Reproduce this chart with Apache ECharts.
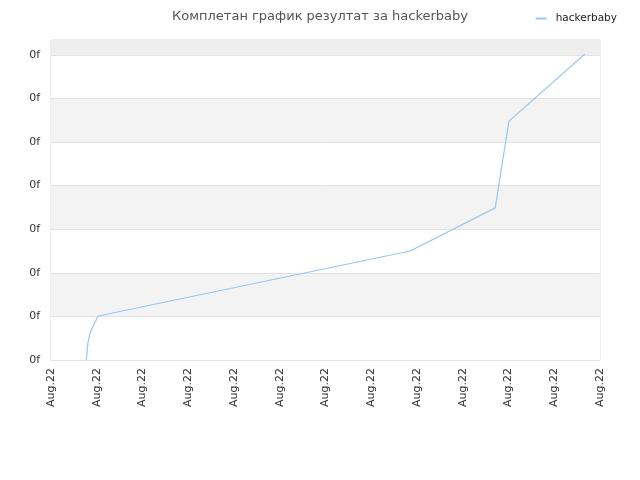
<!DOCTYPE html>
<html>
<head>
<meta charset="utf-8">
<script src="https://cdn.jsdelivr.net/npm/echarts@6/dist/echarts.min.js"></script>
<style>
    html, body { margin: 0; padding: 0; background: #fff; }
    #chart { width: 640px; height: 480px; }
</style>
</head>
<body>
<div id="chart"></div>
<script>
// positions along the time axis (in tick units) and score levels
var xValues = [0.77, 0.81, 0.85, 0.92, 1.03, 7.85, 9.71, 10.01, 11.67];
var yValues = [0, 0.41, 0.60, 0.78, 1.01, 2.50, 3.49, 5.48, 7.02];
var xTickLabel = 'Aug.22';
var yTickLabel = '0f';
var seriesName = 'hackerbaby';

var yMax = 7.34;

var chart = echarts.init(document.getElementById('chart'));
var points = xValues.map(function (x, i) { return [x, yValues[i]]; });

var option = {
    animation: false,
    textStyle: { fontFamily: 'DejaVu Sans' },
    title: {
        text: 'Комплетан график резултат за hackerbaby',
        left: 'center',
        top: 5,
        textStyle: { fontSize: 13, fontWeight: 'normal', color: '#555555' }
    },
    legend: {
        right: 18,
        top: 8,
        icon: 'rect',
        itemWidth: 11,
        itemHeight: 2,
        textStyle: { fontSize: 10.5, color: '#222222', padding: [0, 0, 0, 4] },
        data: [seriesName]
    },
    grid: {
        left: 51,
        right: 40,
        top: 40,
        bottom: 120,
        show: true,
        borderColor: '#dddddd',
        borderWidth: 1
    },
    xAxis: {
        type: 'value',
        min: 0,
        max: 12,
        interval: 1,
        axisLine: { show: false },
        axisTick: { show: false },
        splitLine: { show: false },
        axisLabel: {
            rotate: 90,
            fontSize: 11,
            color: '#333333',
            margin: 8,
            formatter: function () { return xTickLabel; }
        }
    },
    yAxis: {
        type: 'value',
        min: 0,
        max: yMax,
        interval: 1,
        axisLine: { show: false },
        axisTick: { show: false },
        axisLabel: {
            fontSize: 11,
            color: '#333333',
            margin: 11,
            formatter: function (v) { return v > 7.01 ? '' : yTickLabel; }
        },
        splitLine: { lineStyle: { color: '#e2e2e2' } },
        splitArea: { show: true, areaStyle: { color: ['#ffffff', '#f3f3f3'] } }
    },
    series: [{
        name: seriesName,
        type: 'line',
        data: points,
        showSymbol: false,
        symbol: 'none',
        lineStyle: { color: '#99c6f2', width: 1.2 },
        itemStyle: { color: '#99c6f2' },
        markArea: {
            silent: true,
            itemStyle: { color: '#eeeeee' },
            data: [[{ yAxis: 7 }, { yAxis: yMax }]]
        }
    }]
};
chart.setOption(option);
</script>
</body>
</html>
